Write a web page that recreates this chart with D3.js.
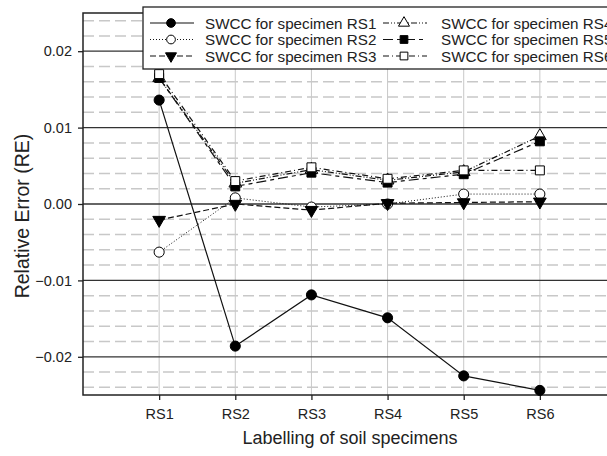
<!DOCTYPE html>
<html>
<head>
<meta charset="utf-8">
<script src="https://cdn.jsdelivr.net/npm/d3@7"></script>
<style>
  body { margin: 0; background: #fff; }
  svg { display: block; font-family: "Liberation Sans", Arial, sans-serif; }
</style>
</head>
<body>
<svg id="chart" width="607" height="456"></svg>
<script>
// data
var specimens = ["RS1", "RS2", "RS3", "RS4", "RS5", "RS6"];
var seriesNames = ["SWCC for specimen RS1", "SWCC for specimen RS2", "SWCC for specimen RS3",
                   "SWCC for specimen RS4", "SWCC for specimen RS5", "SWCC for specimen RS6"];
var reRS1 = [0.0136, -0.0186, -0.0119, -0.0149, -0.0225, -0.0244];
var reRS2 = [-0.0063, 0.0008, -0.0004, 0.0000, 0.0013, 0.0013];
var reRS3 = [-0.0021, 0.0000, -0.0008, 0.0001, 0.0002, 0.0003];
var reRS4 = [0.0165, 0.0027, 0.0045, 0.0031, 0.0042, 0.0089];
var reRS5 = [0.0165, 0.0023, 0.0041, 0.0028, 0.0039, 0.0082];
var reRS6 = [0.0170, 0.0030, 0.0048, 0.0033, 0.0044, 0.0044];
var yTicks = [-0.02, -0.01, 0.00, 0.01, 0.02];

var allSeries = [reRS1, reRS2, reRS3, reRS4, reRS5, reRS6];
// marker type, fill, dash pattern for each series
var styles = [
  { sym: d3.symbolCircle, fill: "#000", dash: null, size: 80 },
  { sym: d3.symbolCircle, fill: "#fff", dash: "1,2", size: 80 },
  { sym: "down", fill: "#000", dash: "6,3", size: 70 },
  { sym: d3.symbolTriangle, fill: "#fff", dash: "6,2,1,2,1,2", size: 70 },
  { sym: d3.symbolSquare, fill: "#000", dash: "10,4,4,4", size: 80 },
  { sym: d3.symbolSquare, fill: "#fff", dash: "6,3,1,3", size: 80 }
];

var svg = d3.select("#chart");
var pLeft = 83, pTop = 13, pBottom = 395, pRight = 616;

var x = d3.scaleLinear().domain([0, 7]).range([pLeft, pRight]);
var y = d3.scaleLinear().domain([-0.025, 0.025]).range([pBottom, pTop]);

var plot = svg.append("g");

// minor dashed grid
var minor = d3.range(-24, 25, 2).map(function(d) { return d / 1000; })
  .filter(function(d) { return Math.abs(d * 100 - Math.round(d * 100)) > 1e-9; });
plot.selectAll(".minor")
  .data(minor)
  .enter()
  .append("line")
    .attr("x1", pLeft).attr("x2", pRight)
    .attr("y1", function(d) { return y(d); })
    .attr("y2", function(d) { return y(d); })
    .attr("stroke", "#c8c8c8")
    .attr("stroke-width", 1.5)
    .attr("stroke-dasharray", "11,5");

// vertical grid
plot.selectAll(".vgrid")
  .data(specimens)
  .enter()
  .append("line")
    .attr("x1", function(d, i) { return x(i + 1); })
    .attr("x2", function(d, i) { return x(i + 1); })
    .attr("y1", pTop).attr("y2", pBottom)
    .attr("stroke", "#c8c8c8")
    .attr("stroke-width", 1);

// major grid
plot.selectAll(".major")
  .data(yTicks)
  .enter()
  .append("line")
    .attr("x1", pLeft).attr("x2", pRight)
    .attr("y1", function(d) { return y(d); })
    .attr("y2", function(d) { return y(d); })
    .attr("stroke", "#333")
    .attr("stroke-width", 1.3);

// frame
plot.append("rect")
  .attr("x", pLeft).attr("y", pTop)
  .attr("width", pRight - pLeft).attr("height", pBottom - pTop)
  .attr("fill", "none").attr("stroke", "#222").attr("stroke-width", 1.5);

// axes
var yAxis = d3.axisLeft(y).tickValues(yTicks).tickSize(5).tickFormat(d3.format(".2f"));
var gy = svg.append("g").attr("transform", "translate(" + pLeft + ",0)").call(yAxis);
gy.select(".domain").remove();
gy.selectAll("line").attr("stroke", "#222").attr("stroke-width", 1.3);
gy.selectAll("text").attr("font-size", 14.5).attr("fill", "#222").attr("x", -11)
  .attr("font-family", "Liberation Sans, Arial, sans-serif");

var xAxis = d3.axisBottom(x).tickValues([1, 2, 3, 4, 5, 6]).tickSize(5)
  .tickFormat(function(d) { return specimens[d - 1]; });
var gx = svg.append("g").attr("transform", "translate(0," + pBottom + ")").call(xAxis);
gx.select(".domain").remove();
gx.selectAll("line").attr("stroke", "#222").attr("stroke-width", 1.3);
gx.selectAll("text").attr("font-size", 14.5).attr("fill", "#222").attr("y", 14)
  .attr("font-family", "Liberation Sans, Arial, sans-serif");

// axis titles
svg.append("text")
  .attr("x", 350).attr("y", 444)
  .attr("text-anchor", "middle")
  .attr("font-size", 18).attr("fill", "#222")
  .text("Labelling of soil specimens");
svg.append("text")
  .attr("transform", "translate(29,216) rotate(-90)")
  .attr("text-anchor", "middle")
  .attr("font-size", 19.5).attr("fill", "#222")
  .text("Relative Error (RE)");

function symbolPath(st, scale) {
  var s = st.size * (scale || 1);
  if (st.sym === "down") {
    return d3.symbol().type(d3.symbolTriangle).size(s)();
  }
  return d3.symbol().type(st.sym).size(s)();
}
function symbolRot(st) { return st.sym === "down" ? " rotate(180)" : ""; }

var line = d3.line()
  .x(function(d, i) { return x(i + 1); })
  .y(function(d) { return y(d); });

// lines
svg.append("clipPath").attr("id", "clip")
  .append("rect").attr("x", pLeft).attr("y", pTop).attr("width", pRight - pLeft).attr("height", pBottom - pTop);
var dataG = svg.append("g").attr("clip-path", "url(#clip)");
dataG.selectAll(".series")
  .data(allSeries)
  .enter()
  .append("path")
    .attr("d", line)
    .attr("fill", "none")
    .attr("stroke", "#111")
    .attr("stroke-width", function(d, i) { return i === 1 ? 1 : 1.2; })
    .attr("stroke-dasharray", function(d, i) { return styles[i].dash; });

// markers
allSeries.forEach(function(vals, si) {
  var st = styles[si];
  svg.append("g").selectAll("path")
    .data(vals)
    .enter()
    .append("path")
      .attr("d", symbolPath(st))
      .attr("transform", function(d, i) { return "translate(" + x(i + 1) + "," + y(d) + ")" + symbolRot(st); })
      .attr("fill", st.fill)
      .attr("stroke", "#000")
      .attr("stroke-width", 1);
});

// legend
var leg = svg.append("g");
leg.append("rect")
  .attr("x", 143).attr("y", 7).attr("width", 480).attr("height", 62)
  .attr("fill", "#fff").attr("stroke", "#222").attr("stroke-width", 1.3);

seriesNames.forEach(function(name, i) {
  var col = Math.floor(i / 3), row = i % 3;
  var sx = col === 0 ? 150 : 383;
  var tx = col === 0 ? 205 : 441;
  var ly = 23 + row * 16.5;
  var st = styles[i];
  leg.append("line")
    .attr("x1", sx).attr("x2", sx + 44)
    .attr("y1", ly).attr("y2", ly)
    .attr("stroke", "#111").attr("stroke-width", 1.2)
    .attr("stroke-dasharray", st.dash);
  leg.append("path")
    .attr("d", symbolPath(st, 0.75))
    .attr("transform", "translate(" + (sx + 21) + "," + ly + ")" + symbolRot(st))
    .attr("fill", st.fill).attr("stroke", "#000");
  leg.append("text")
    .attr("x", tx).attr("y", ly + 5.5)
    .attr("font-size", 15.2).attr("fill", "#222")
    .text(name);
});
</script>
</body>
</html>
